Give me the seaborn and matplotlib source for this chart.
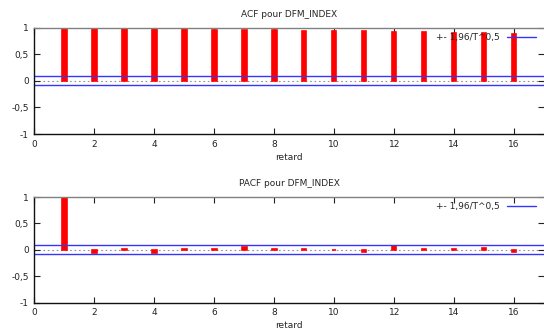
import numpy as np
import matplotlib
matplotlib.use("Agg")
import matplotlib.pyplot as plt
from matplotlib.lines import Line2D
import seaborn as sns

# ------------------------------------------------------------------
#  Data
# ------------------------------------------------------------------
lags = [1, 2, 3, 4, 5, 6, 7, 8, 9, 10, 11, 12, 13, 14, 15, 16]
acf_vals = [1.0, 0.995, 0.99, 0.99, 0.975, 0.965, 0.955, 0.95,
            0.94, 0.935, 0.93, 0.925, 0.915, 0.905, 0.895, 0.89]
pacf_vals = [1.0, -0.06, 0.02, -0.05, 0.02, 0.02, 0.06, 0.01,
             0.01, -0.01, -0.04, 0.08, 0.01, 0.01, 0.03, -0.04]
conf_band = 0.085
ytick_vals = [-1, -0.5, 0, 0.5, 1]
ytick_labels = ["-1", "-0,5", "0", "0,5", "1"]
xtick_vals = [0, 2, 4, 6, 8, 10, 12, 14, 16]
titles = ["ACF pour DFM_INDEX", "PACF pour DFM_INDEX"]
legend_label = "+- 1,96/T^0,5"

sns.set_style("ticks")
plt.rcParams["font.family"] = ["DejaVu Sans"]
plt.rcParams["font.size"] = 6.5

fig = plt.figure(figsize=(5.44, 3.29), dpi=100)
ax_top = fig.add_axes([0.0634, 0.5927, 0.9366, 0.323])
ax_bot = fig.add_axes([0.0634, 0.080, 0.9366, 0.321])


def draw_panel(ax, values, title):
    sns.barplot(x=lags, y=values, native_scale=True, color="#ff0000",
                width=0.15, saturation=1, edgecolor="#ff0000",
                linewidth=1.2, ax=ax)
    ax.axhline(0, color="#909090", lw=0.8, ls=(0, (1.5, 2.5)), zorder=0)
    ax.axhline(conf_band, color="#3535ff", lw=1.0)
    ax.axhline(-conf_band, color="#3535ff", lw=1.0)

    ax.set_xlim(0, 17)
    ax.set_ylim(-1, 1)
    ax.set_xticks(xtick_vals)
    ax.set_xticklabels([str(v) for v in xtick_vals])
    ax.set_yticks(ytick_vals)
    ax.set_yticklabels(ytick_labels)
    ax.tick_params(direction="in", length=4, width=0.8, colors="#222222",
                   labelsize=6.5, top=True, right=True, pad=4)
    ax.set_xlabel("retard", fontsize=6.5, labelpad=3)
    ax.set_ylabel("")
    ax.set_title(title, fontsize=6.5, pad=8)

    for side in ["left", "bottom"]:
        ax.spines[side].set_color("#111111")
        ax.spines[side].set_linewidth(1.0)
    ax.spines["top"].set_visible(True)
    ax.spines["top"].set_color("#808080")
    ax.spines["top"].set_linewidth(1.0)
    ax.spines["right"].set_visible(False)

    handle = Line2D([], [], color="#3535ff", lw=1.0)
    ax.legend([handle], [legend_label], loc="upper right",
              bbox_to_anchor=(0.995, 1.0), frameon=False,
              markerfirst=False, fontsize=6.5, handlelength=3.2,
              handletextpad=0.8, borderaxespad=0.2)


draw_panel(ax_top, acf_vals, titles[0])
draw_panel(ax_bot, pacf_vals, titles[1])

fig.savefig("out.png", dpi=100)
